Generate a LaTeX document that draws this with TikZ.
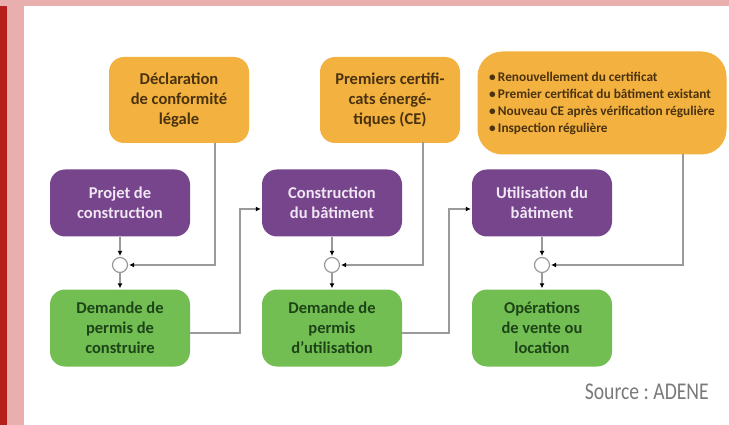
\documentclass[tikz,border=0pt]{standalone}
\usepackage{fontspec}
\usepackage{graphicx}
\setmainfont{Carlito}
\usetikzlibrary{arrows.meta}
\definecolor{darkred}{HTML}{B5201C}
\definecolor{pinkband}{HTML}{E8AFAE}
\definecolor{orangefill}{HTML}{F3B23F}
\definecolor{orangetext}{HTML}{4A3210}
\definecolor{purplefill}{HTML}{76458C}
\definecolor{purpletext}{HTML}{F0E6F4}
\definecolor{greenfill}{HTML}{72BE52}
\definecolor{greentext}{HTML}{1C4418}
\definecolor{linegray}{HTML}{9A9A9A}
\definecolor{srcgray}{HTML}{7A7A7A}
\tikzset{
  box/.style={rounded corners=15pt, minimum width=140pt, align=center, inner sep=2pt,
    font=\fontsize{16.5}{20}\selectfont\bfseries},
  orangebox/.style={box, fill=orangefill, text=orangetext, minimum height=86pt},
  purplebox/.style={box, fill=purplefill, text=purpletext, minimum height=67pt},
  greenbox/.style={box, fill=greenfill, text=greentext, minimum height=77pt},
  junction/.style={circle, draw=linegray, fill=white, line width=1.2pt, minimum size=15pt, inner sep=0pt},
  conn/.style={draw=linegray, line width=1.2pt},
  arr/.style={conn, -{Latex[length=5pt,width=5pt,color=black]}, shorten >=1pt},
}
\begin{document}
\frenchspacing
\begin{tikzpicture}[x=1pt,y=-1pt]
\useasboundingbox (0,0) rectangle (729,425);
% frame
\fill[white] (0,0) rectangle (729,425);
\fill[pinkband] (0,0) rectangle (729,6);
\fill[darkred] (0,6) rectangle (7,425);
\fill[pinkband] (7,6) rectangle (24,425);

% orange boxes
\node[orangebox] (o1) at (179,100) {Déclaration\\de conformité\\légale};
\node[orangebox] (o2) at (390,100) {Premiers certifi-\\cats énergé-\\tiques (CE)};
\node[box, fill=orangefill, text=orangetext, minimum width=249pt, minimum height=103pt,
  rounded corners=25pt, align=left, font=\fontsize{13.3}{17}\selectfont\bfseries] (o3) at (602,103)
  {•\,Renouvellement du certificat\\•\,Premier certificat du bâtiment existant\\•\,Nouveau CE après vérification régulière\\•\,Inspection régulière};

% purple boxes
\node[purplebox] (p1) at (120,203) {Projet de\\construction};
\node[purplebox] (p2) at (332,203) {Construction\\du bâtiment};
\node[purplebox] (p3) at (542,203) {Utilisation du\\bâtiment};

% green boxes
\node[greenbox] (g1) at (120,328) {Demande de\\permis de\\construire};
\node[greenbox] (g2) at (332,328) {Demande de\\permis\\d’utilisation};
\node[greenbox] (g3) at (542,328) {Opérations\\de vente ou\\location};

% junctions
\node[junction] (j1) at (120,265) {};
\node[junction] (j2) at (332,265) {};
\node[junction] (j3) at (542,265) {};

% free ends on the orange boxes
\coordinate (t1) at (215,143);
\coordinate (t2) at (423,142);
\coordinate (t3) at (683,154);

% connectors
\foreach \i in {1,2,3}{
  \draw[arr] (p\i.south) -- (j\i.north);
  \draw[arr] (j\i.south) -- (g\i.north);
  \draw[arr] (t\i) |- (j\i.east);
}
\draw[arr] ([yshift=-5pt]g1.east) -| (240,209) -- ([yshift=-6pt]p2.west);
\draw[arr] ([yshift=-5pt]g2.east) -| (449,209) -- ([yshift=-6pt]p3.west);

% source
\node[anchor=east, text=srcgray, inner sep=0pt] (src) at (709,392)
  {\scalebox{0.82}[1]{\fontsize{24}{28}\selectfont Source : ADENE}};
\end{tikzpicture}
\end{document}
